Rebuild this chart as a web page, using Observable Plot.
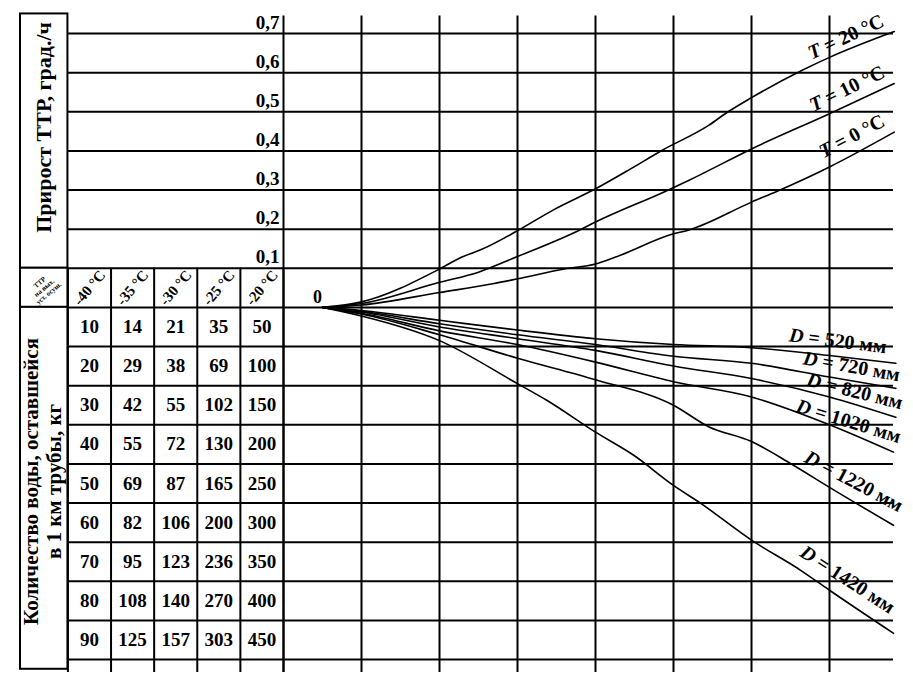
<!DOCTYPE html>
<html>
<head>
<meta charset="utf-8">
<script src="https://cdn.jsdelivr.net/npm/d3@7"></script>
<script src="https://cdn.jsdelivr.net/npm/@observablehq/plot@0.6"></script>
<style>
  body { margin: 0; background: #fff; }
  #wrap { display: flex; width: 913px; height: 691px; background: #fff; }
  #wrap svg { overflow: visible; display: block; }
</style>
</head>
<body>
<div id="wrap"></div>
<script>
// ---------- DATA ----------
// Table (left block)
const tableCols = ["-40 °C", "-35 °C", "-30 °C", "-25 °C", "-20 °C"];
const water40 = [10, 20, 30, 40, 50, 60, 70, 80, 90];
const water35 = [14, 29, 42, 55, 69, 82, 95, 108, 125];
const water30 = [21, 38, 55, 72, 87, 106, 123, 140, 157];
const water25 = [35, 69, 102, 130, 165, 200, 236, 270, 303];
const water20 = [50, 100, 150, 200, 250, 300, 350, 400, 450];
const headerLabel = "ТТР\nна вых.\nуст. осуш.";
const upperTitle = "Прирост ТТР, град./ч";
const lowerTitle = "Количество воды, оставшейся\nв 1 км трубы, кг";

// Y axis (rate of dew point increase)
const yTicks = [0.1, 0.2, 0.3, 0.4, 0.5, 0.6, 0.7];
const yTickLabels = ["0,1", "0,2", "0,3", "0,4", "0,5", "0,6", "0,7"];
const rowCount = 9;           // water rows below the zero line
const gridCols = [0, 1, 2, 3, 4, 5, 6, 7];
const originLabel = "0";

// Curves: temperature T (upper half)
const t20X = [0.5, 1, 2, 2.28, 2.55, 3, 3.45, 4, 4.45, 4.85, 5.45, 5.7, 6, 6.65, 7, 7.83];
const t20Y = [0, 0.014, 0.098, 0.128, 0.149, 0.196, 0.248, 0.303, 0.354, 0.401, 0.465, 0.5, 0.536, 0.606, 0.639, 0.705];
const t10X = [0.5, 1, 2, 2.5, 3, 3.8, 4, 4.9, 5.2, 6, 7, 7.83];
const t10Y = [0, 0.01, 0.064, 0.09, 0.13, 0.198, 0.218, 0.297, 0.325, 0.405, 0.495, 0.572];
const t0X = [0.5, 1, 2, 2.7, 3, 3.6, 4, 4.25, 5, 5.2, 6, 6.33, 7, 7.83];
const t0Y = [0, 0.006, 0.038, 0.061, 0.073, 0.098, 0.111, 0.128, 0.188, 0.198, 0.269, 0.297, 0.359, 0.448];

// Curves: pipe diameter D (lower half)
const d520X = [0.5, 1, 2, 3, 4, 5, 6, 7, 7.85];
const d520Y = [0, -0.008, -0.033, -0.058, -0.08, -0.095, -0.103, -0.123, -0.143];
const d720X = [0.5, 1, 2, 3, 4, 5, 6, 7, 7.85];
const d720Y = [0, -0.01, -0.042, -0.07, -0.095, -0.125, -0.143, -0.178, -0.207];
const d820X = [0.5, 1, 2, 3, 4, 5, 6, 7, 7.85];
const d820Y = [0, -0.012, -0.05, -0.08, -0.11, -0.15, -0.182, -0.229, -0.281];
const d1020X = [0.5, 1, 2, 3, 4, 5, 6, 7, 7.82];
const d1020Y = [0, -0.015, -0.06, -0.095, -0.14, -0.19, -0.229, -0.3, -0.37];
const d1220X = [0.5, 1, 2, 3, 4, 5, 5.45, 6, 6.5, 7, 7.82];
const d1220Y = [0, -0.017, -0.07, -0.13, -0.185, -0.25, -0.305, -0.343, -0.399, -0.46, -0.557];
const d1420X = [0.5, 1, 2, 3, 3.38, 4, 4.49, 5, 5.35, 6, 6.63, 7, 7.82];
const d1420Y = [0, -0.022, -0.085, -0.195, -0.238, -0.319, -0.378, -0.455, -0.501, -0.595, -0.672, -0.723, -0.833];

const seriesNames = ["T = 20 °C", "T = 10 °C", "T = 0 °C",
  "D = 520 мм", "D = 720 мм", "D = 820 мм", "D = 1020 мм", "D = 1220 мм", "D = 1420 мм"];

// ---------- STYLE / LAYOUT ----------
const FONT = "Liberation Serif";
const H = 691, MT = 33, MB = 32;
const yDomain = [-0.9, 0.7];
const gridTop = 0.745, gridBottom = -0.933, gridRight = 7.82, boxTop = 0.75, boxBottom = -0.925;
const labelColStart = -0.1;   // the title column is a little wider than the data columns
const labelStyle = {
  "T = 20 °C": {rotate: -25, dx: -9, dy: -6},
  "T = 10 °C": {rotate: -26, dx: -8, dy: -7},
  "T = 0 °C":  {rotate: -28, dx: -8, dy: -7},
  "D = 520 мм": {rotate: 7, dx: -10, dy: -10},
  "D = 720 мм": {rotate: 10, dx: 3, dy: -7},
  "D = 820 мм": {rotate: 14, dx: 5, dy: -8},
  "D = 1020 мм": {rotate: 17, dx: 5, dy: -9},
  "D = 1220 мм": {rotate: 28, dx: 5, dy: -13},
  "D = 1420 мм": {rotate: 33, dx: -4, dy: -19}
};

// ---------- BUILD TABLES ----------
const waterCols = [water40, water35, water30, water25, water20];
const cells = [];
waterCols.forEach((col, ci) => col.forEach((v, ri) => cells.push({col: ci + 1, row: ri + 1, v})));
const rowLines = d3.range(0, rowCount + 1).map(r => -r / 10);
const colLines = d3.range(1, tableCols.length + 2);

const seriesX = [t20X, t10X, t0X, d520X, d720X, d820X, d1020X, d1220X, d1420X];
const seriesY = [t20Y, t10Y, t0Y, d520Y, d720Y, d820Y, d1020Y, d1220Y, d1420Y];
const lineData = [];
seriesNames.forEach((name, s) => seriesX[s].forEach((x, i) => lineData.push({name, x, y: seriesY[s][i]})));
const lastPoints = seriesNames.map((name, s) => ({name, x: seriesX[s].at(-1), y: seriesY[s].at(-1)}));
const gridY = [...yTicks, ...rowLines];

const txt = {fontFamily: FONT, fontWeight: "bold", fill: "black"};
const labelMid = (labelColStart + 1) / 2;

// ---------- LEFT: TABLE ----------
const nCol = tableCols.length + 1;
const tablePlot = Plot.plot({
  width: 283, height: H, marginTop: MT, marginBottom: MB, marginLeft: 20, marginRight: 0,
  x: {domain: [labelColStart, nCol], axis: null},
  y: {domain: yDomain, axis: null},
  style: {background: "transparent", overflow: "visible"},
  marks: [
    Plot.ruleY(yTicks, {y: d => d, x1: labelColStart, x2: nCol, stroke: "black", strokeWidth: 2}),
    Plot.ruleY(rowLines, {y: d => d, x1: 1, x2: nCol, stroke: "black", strokeWidth: 2}),
    Plot.ruleX(colLines, {x: d => d, y1: gridBottom, y2: yTicks[0], stroke: "black", strokeWidth: 2}),
    // label boxes
    Plot.rect([upperTitle], {x1: labelColStart, x2: 1, y1: yTicks[0], y2: boxTop, fill: "white", stroke: "black", strokeWidth: 2}),
    Plot.rect([headerLabel], {x1: labelColStart, x2: 1, y1: 0, y2: yTicks[0], fill: "white", stroke: "black", strokeWidth: 2}),
    Plot.rect([lowerTitle], {x1: labelColStart, x2: 1, y1: boxBottom, y2: 0, fill: "white", stroke: "black", strokeWidth: 2}),
    Plot.text([upperTitle], {x: labelMid, y: 0.46, text: d => d, rotate: -90, fontSize: 22, ...txt}),
    Plot.text([lowerTitle], {x: labelMid, y: -0.445, text: d => d, rotate: -90, dx: -2, fontSize: 21, lineHeight: 1.1, ...txt}),
    Plot.text([headerLabel], {x: labelMid, y: 0.05, text: d => d, rotate: -40, fontSize: 7, lineHeight: 1.0, ...txt}),
    // column headers
    Plot.text(tableCols, {x: (d, i) => i + 1.5, y: 0.05, text: d => d, rotate: -50, fontSize: 15, ...txt}),
    // water values
    Plot.text(cells, {x: d => d.col + 0.5, y: d => -(d.row - 0.5) / 10, text: d => String(d.v), fontSize: 19, ...txt}),
    // y tick labels
    Plot.text(yTicks, {x: nCol, y: d => d, text: (d, i) => yTickLabels[i], textAnchor: "end", dx: -4, dy: -11, fontSize: 19, ...txt})
  ]
});

// ---------- RIGHT: NOMOGRAM ----------
const labelMarks = lastPoints.map(p => Plot.text([p], {
  x: "x", y: "y", text: "name", textAnchor: "end", lineAnchor: "bottom",
  rotate: labelStyle[p.name].rotate, dx: labelStyle[p.name].dx, dy: labelStyle[p.name].dy,
  fontSize: 20, ...txt
}));

const chartPlot = Plot.plot({
  width: 630, height: H, marginTop: MT, marginBottom: MB, marginLeft: 0, marginRight: 6,
  x: {domain: [0, 8], axis: null},
  y: {domain: yDomain, axis: null},
  style: {background: "transparent", overflow: "visible"},
  marks: [
    Plot.ruleY(gridY, {y: d => d, x1: 0, x2: gridRight, stroke: "black", strokeWidth: 2}),
    Plot.ruleX(gridCols, {x: d => d, y1: gridBottom, y2: gridTop, stroke: "black", strokeWidth: 2}),
    Plot.line(lineData, {x: "x", y: "y", z: "name", stroke: "black", strokeWidth: 1.6, curve: "monotone-x"}),
    ...labelMarks,
    Plot.text([{x: seriesX[0][0], y: seriesY[0][0], t: originLabel}], {x: "x", y: "y", text: "t", dx: -5, dy: -10, fontSize: 18, ...txt})
  ]
});

// Italic variable letters (T, D) in curve labels
chartPlot.querySelectorAll("text").forEach(t => {
  const s = t.textContent;
  if (/^[TD] = /.test(s) && t.children.length === 0) {
    t.textContent = "";
    const a = document.createElementNS("http://www.w3.org/2000/svg", "tspan");
    a.setAttribute("font-style", "italic");
    a.textContent = s[0];
    const b = document.createElementNS("http://www.w3.org/2000/svg", "tspan");
    b.textContent = s.slice(1);
    t.appendChild(a); t.appendChild(b);
  }
});

const wrap = document.getElementById("wrap");
wrap.appendChild(tablePlot);
wrap.appendChild(chartPlot);
</script>
</body>
</html>
